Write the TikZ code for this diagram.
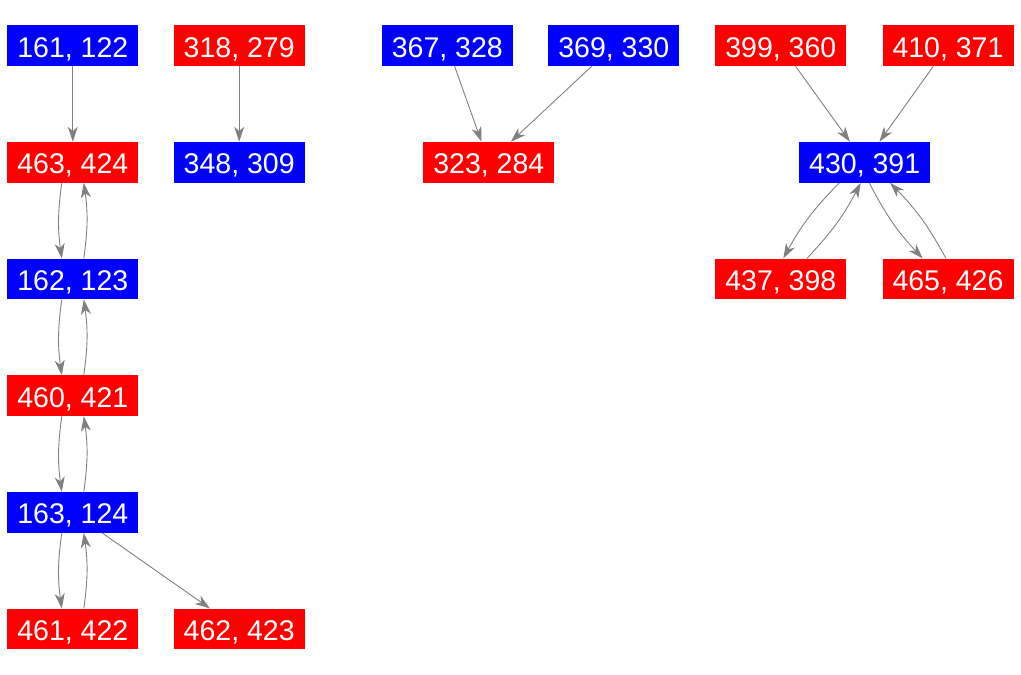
\documentclass[tikz,border=0pt]{standalone}
\usepackage{fontspec}
\setmainfont{Liberation Sans}
\usetikzlibrary{arrows.meta}
\definecolor{vblue}{RGB}{0,0,255}
\definecolor{vred}{RGB}{255,0,0}
\definecolor{egray}{RGB}{128,128,128}
\tikzset{
  vbox/.style={rectangle, minimum width=131pt, minimum height=40.7pt, inner sep=0pt,
    text=white, font=\fontsize{28.5}{30}\selectfont, text height=22.8pt, text depth=0pt},
  bluebox/.style={vbox, fill=vblue},
  redbox/.style={vbox, fill=vred},
  edge/.style={draw=egray, line width=0.9pt, -{Stealth[length=15pt, width=10pt, inset=4.5pt]}},
  cedge/.style={edge, bend right=8}
}
\begin{document}
\begin{tikzpicture}[x=1pt,y=-1pt]
\useasboundingbox (0,0) rectangle (1021,675);
\node[bluebox] (n161) at (72.8,45.7) {161, 122};
\node[redbox]  (n318) at (239.2,45.7) {318, 279};
\node[bluebox] (n367) at (447.3,45.7) {367, 328};
\node[bluebox] (n369) at (613.8,45.7) {369, 330};
\node[redbox]  (n399) at (780.8,45.7) {399, 360};
\node[redbox]  (n410) at (948,45.7) {410, 371};
\node[redbox]  (n463) at (72.8,162.3) {463, 424};
\node[bluebox] (n348) at (239.2,162.3) {348, 309};
\node[redbox]  (n323) at (488.8,162.3) {323, 284};
\node[bluebox] (n430) at (864.7,162.3) {430, 391};
\node[bluebox] (n162) at (72.8,279) {162, 123};
\node[redbox]  (n437) at (780.8,279) {437, 398};
\node[redbox]  (n465) at (948,279) {465, 426};
\node[redbox]  (n460) at (72.8,395.7) {460, 421};
\node[bluebox] (n163) at (72.8,512.3) {163, 124};
\node[redbox]  (n461) at (72.8,629) {461, 422};
\node[redbox]  (n462) at (239.2,629) {462, 423};

\draw[edge] (n161) -- (n463);
\draw[edge] (n318) -- (n348);
\draw[edge] (n367) -- (n323);
\draw[edge] (n369) -- (n323);
\draw[edge] (n399) -- (n430);
\draw[edge] (n410) -- (n430);
\draw[edge] (n163) -- (n462);

\draw[cedge] ([xshift=-11pt]n463.south) to ([xshift=-11pt]n162.north);
\draw[cedge] ([xshift=11pt]n162.north) to ([xshift=11pt]n463.south);
\draw[cedge] ([xshift=-11pt]n162.south) to ([xshift=-11pt]n460.north);
\draw[cedge] ([xshift=11pt]n460.north) to ([xshift=11pt]n162.south);
\draw[cedge] ([xshift=-11pt]n460.south) to ([xshift=-11pt]n163.north);
\draw[cedge] ([xshift=11pt]n163.north) to ([xshift=11pt]n460.south);
\draw[cedge] ([xshift=-11pt]n163.south) to ([xshift=-11pt]n461.north);
\draw[cedge] ([xshift=11pt]n461.north) to ([xshift=11pt]n163.south);

\draw[cedge] ([xshift=-25.4pt]n430.south) to ([xshift=2.5pt]n437.north);
\draw[cedge] ([xshift=26pt]n437.north) to ([xshift=-4pt]n430.south);
\draw[cedge] ([xshift=4.6pt]n430.south) to ([xshift=-25.3pt]n465.north);
\draw[cedge] ([xshift=-2pt]n465.north) to ([xshift=25.3pt]n430.south);
\end{tikzpicture}
\end{document}
